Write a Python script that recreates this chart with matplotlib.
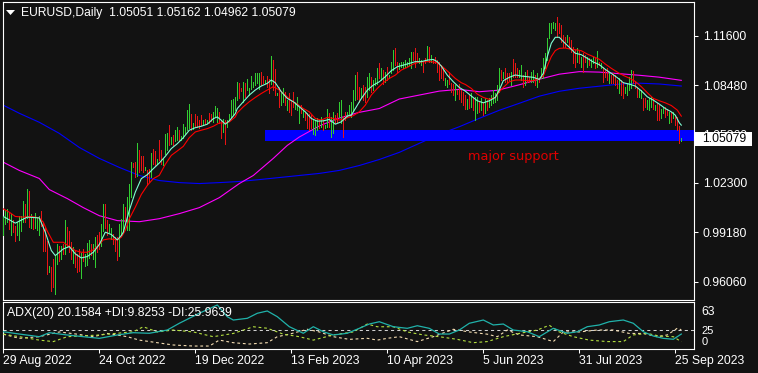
import numpy as np
import matplotlib
matplotlib.use("Agg")
import matplotlib.pyplot as plt
import matplotlib.transforms as mtransforms
from matplotlib.patches import Rectangle, Polygon

plt.rcParams['font.family'] = ['Liberation Sans', 'DejaVu Sans']

# ---------------- data (EURUSD daily, bar index 0 = 29 Aug 2022) ----------------
highs = [
    1.0018, 1.0060, 1.0066, 1.0045, 1.0031, 0.9993, 0.9961, 0.9982, 1.0018, 1.0024,
    1.0113, 1.0098, 1.0193, 1.0182, 1.0031, 1.0014, 1.0039, 1.0009, 1.0024, 1.0050,
    0.9976, 0.9950, 0.9866, 0.9708, 0.9697, 0.9750, 0.9771, 0.9845, 0.9834, 0.9834,
    0.9841, 0.9997, 0.9950, 0.9925, 0.9855, 0.9824, 0.9798, 0.9782, 0.9813, 0.9786,
    0.9813, 0.9782, 0.9849, 0.9870, 0.9845, 0.9841, 0.9887, 0.9898, 0.9919, 0.9971,
    1.0094, 1.0094, 0.9997, 0.9971, 0.9946, 0.9908, 0.9887, 0.9887, 0.9971, 1.0003,
    1.0098, 1.0077, 1.0141, 1.0225, 1.0362, 1.0355, 1.0362, 1.0482, 1.0436, 1.0398,
    1.0398, 1.0331, 1.0314, 1.0320, 1.0419, 1.0447, 1.0432, 1.0383, 1.0499, 1.0436,
    1.0383, 1.0541, 1.0546, 1.0594, 1.0520, 1.0531, 1.0563, 1.0584, 1.0563, 1.0525,
    1.0605, 1.0584, 1.0693, 1.0731, 1.0664, 1.0609, 1.0668, 1.0651, 1.0626, 1.0658,
    1.0626, 1.0636, 1.0630, 1.0672, 1.0668, 1.0679, 1.0715, 1.0706, 1.0679, 1.0626,
    1.0636, 1.0626, 1.0626, 1.0668, 1.0752, 1.0757, 1.0774, 1.0869, 1.0859, 1.0830,
    1.0869, 1.0859, 1.0884, 1.0827, 1.0905, 1.0869, 1.0926, 1.0922, 1.0922, 1.0933,
    1.0905, 1.0880, 1.0905, 1.0884, 1.1032, 1.1006, 1.0947, 1.0800, 1.0838, 1.0795,
    1.0827, 1.0806, 1.0753, 1.0795, 1.0753, 1.0806, 1.0743, 1.0770, 1.0711, 1.0722,
    1.0690, 1.0679, 1.0669, 1.0665, 1.0658, 1.0627, 1.0627, 1.0637, 1.0627, 1.0648,
    1.0627, 1.0595, 1.0700, 1.0669, 1.0644, 1.0679, 1.0658, 1.0669, 1.0743, 1.0753,
    1.0652, 1.0679, 1.0679, 1.0722, 1.0743, 1.0816, 1.0911, 1.0932, 1.0837, 1.0827,
    1.0848, 1.0833, 1.0901, 1.0922, 1.0901, 1.0880, 1.0890, 1.0953, 1.0985, 1.0953,
    1.0943, 1.0932, 1.0964, 1.0911, 1.0996, 1.1069, 1.1080, 1.0996, 1.0985, 1.0996,
    1.0996, 1.1006, 1.0996, 1.1017, 1.1059, 1.1059, 1.1080, 1.1048, 1.1017, 1.1006,
    1.0996, 1.1017, 1.1095, 1.1090, 1.1038, 1.1006, 1.1027, 1.1006, 1.0996, 1.0974,
    1.0953, 1.0890, 1.0880, 1.0932, 1.0863, 1.0858, 1.0848, 1.0820, 1.0858, 1.0816,
    1.0806, 1.0785, 1.0757, 1.0785, 1.0796, 1.0774, 1.0774, 1.0774, 1.0743, 1.0764,
    1.0743, 1.0764, 1.0753, 1.0764, 1.0785, 1.0817, 1.0800, 1.0848, 1.0954, 1.0943,
    1.0933, 1.0954, 1.0922, 1.0922, 1.0933, 1.1011, 1.0990, 1.0954, 1.0943, 1.0975,
    1.0912, 1.0933, 1.0943, 1.0901, 1.0933, 1.0943, 1.0912, 1.0922, 1.0890, 1.0954,
    1.1017, 1.1049, 1.1144, 1.1239, 1.1239, 1.1249, 1.1243, 1.1281, 1.1239, 1.1228,
    1.1165, 1.1154, 1.1165, 1.1154, 1.1133, 1.1091, 1.1070, 1.1080, 1.1070, 1.1028,
    1.1049, 1.1038, 1.1028, 1.1017, 1.1011, 1.1028, 1.1017, 1.1065, 1.0996, 1.0990,
    1.0964, 1.0943, 1.0954, 1.0933, 1.0911, 1.0922, 1.0911, 1.0880, 1.0890, 1.0880,
    1.0869, 1.0838, 1.0859, 1.0901, 1.0943, 1.0939, 1.0869, 1.0838, 1.0817, 1.0817,
    1.0764, 1.0764, 1.0753, 1.0764, 1.0774, 1.0764, 1.0722, 1.0732, 1.0722, 1.0700,
    1.0711, 1.0711, 1.0700, 1.0679, 1.0679, 1.0679, 1.0658, 1.0648, 1.0589, 1.0516,
]
lows = [
    0.9904, 0.9971, 0.9982, 0.9940, 0.9904, 0.9919, 0.9866, 0.9898, 0.9870, 0.9929,
    0.9982, 0.9982, 1.0009, 0.9950, 0.9946, 0.9940, 0.9946, 0.9934, 0.9904, 0.9961,
    0.9803, 0.9803, 0.9655, 0.9666, 0.9549, 0.9571, 0.9528, 0.9718, 0.9739, 0.9750,
    0.9782, 0.9782, 0.9828, 0.9792, 0.9750, 0.9723, 0.9697, 0.9666, 0.9672, 0.9630,
    0.9739, 0.9708, 0.9714, 0.9756, 0.9777, 0.9750, 0.9697, 0.9792, 0.9813, 0.9834,
    0.9929, 0.9946, 0.9904, 0.9919, 0.9877, 0.9845, 0.9803, 0.9744, 0.9771, 0.9898,
    0.9919, 0.9972, 0.9930, 0.9935, 1.0141, 1.0330, 1.0267, 1.0271, 1.0299, 1.0309,
    1.0299, 1.0309, 1.0214, 1.0236, 1.0267, 1.0352, 1.0341, 1.0352, 1.0373, 1.0352,
    1.0341, 1.0411, 1.0436, 1.0468, 1.0478, 1.0468, 1.0495, 1.0499, 1.0499, 1.0499,
    1.0516, 1.0541, 1.0567, 1.0579, 1.0567, 1.0573, 1.0588, 1.0584, 1.0579, 1.0594,
    1.0594, 1.0601, 1.0609, 1.0609, 1.0622, 1.0615, 1.0647, 1.0615, 1.0609, 1.0516,
    1.0552, 1.0478, 1.0584, 1.0626, 1.0647, 1.0658, 1.0689, 1.0753, 1.0764, 1.0810,
    1.0743, 1.0774, 1.0817, 1.0785, 1.0821, 1.0838, 1.0848, 1.0859, 1.0821, 1.0848,
    1.0863, 1.0859, 1.0838, 1.0795, 1.0854, 1.0817, 1.0785, 1.0785, 1.0711, 1.0722,
    1.0743, 1.0722, 1.0690, 1.0679, 1.0658, 1.0711, 1.0700, 1.0690, 1.0606, 1.0669,
    1.0648, 1.0627, 1.0574, 1.0563, 1.0574, 1.0538, 1.0532, 1.0563, 1.0580, 1.0584,
    1.0563, 1.0574, 1.0584, 1.0584, 1.0521, 1.0546, 1.0606, 1.0616, 1.0648, 1.0606,
    1.0517, 1.0627, 1.0648, 1.0658, 1.0648, 1.0690, 1.0753, 1.0763, 1.0742, 1.0774,
    1.0753, 1.0742, 1.0774, 1.0816, 1.0806, 1.0816, 1.0848, 1.0858, 1.0890, 1.0880,
    1.0858, 1.0869, 1.0880, 1.0890, 1.0922, 1.0943, 1.0974, 1.0932, 1.0947, 1.0964,
    1.0953, 1.0964, 1.0968, 1.0974, 1.0953, 1.1006, 1.0964, 1.0996, 1.0985, 1.0974,
    1.0932, 1.0985, 1.1006, 1.0996, 1.0996, 1.0985, 1.0985, 1.0932, 1.0880, 1.0890,
    1.0880, 1.0848, 1.0837, 1.0858, 1.0806, 1.0785, 1.0753, 1.0791, 1.0763, 1.0742,
    1.0721, 1.0700, 1.0694, 1.0701, 1.0711, 1.0690, 1.0627, 1.0669, 1.0679, 1.0690,
    1.0658, 1.0669, 1.0690, 1.0711, 1.0722, 1.0732, 1.0743, 1.0753, 1.0806, 1.0880,
    1.0890, 1.0869, 1.0869, 1.0880, 1.0848, 1.0901, 1.0901, 1.0901, 1.0901, 1.0880,
    1.0838, 1.0848, 1.0869, 1.0869, 1.0869, 1.0869, 1.0848, 1.0838, 1.0869, 1.0890,
    1.0890, 1.0954, 1.1006, 1.1144, 1.1180, 1.1207, 1.1196, 1.1154, 1.1175, 1.1123,
    1.1091, 1.1091, 1.1123, 1.1080, 1.1059, 1.0985, 1.0964, 1.0996, 1.0985, 1.0964,
    1.0933, 1.0996, 1.0964, 1.0975, 1.0960, 1.0985, 1.0954, 1.0964, 1.0975, 1.0954,
    1.0869, 1.0901, 1.0880, 1.0859, 1.0859, 1.0859, 1.0848, 1.0827, 1.0795, 1.0785,
    1.0764, 1.0795, 1.0785, 1.0817, 1.0827, 1.0859, 1.0827, 1.0774, 1.0774, 1.0764,
    1.0690, 1.0711, 1.0700, 1.0690, 1.0711, 1.0700, 1.0690, 1.0627, 1.0627, 1.0637,
    1.0669, 1.0648, 1.0658, 1.0606, 1.0616, 1.0637, 1.0595, 1.0563, 1.0483, 1.0496,
]
up = [
    1,1,1,0,1,0,0,1,1,1, 1,0,1,0,1,0,1,1,1,0, 0,0,0,1,0,0,1,1,0,1,
    0,1,0,0,0,1,0,0,0,1, 0,1,1,1,0,1,1,0,0,1, 1,0,0,1,1,0,0,0,1,1,
    1,0,1,1,1,0,0,1,0,0, 0,1,0,0,1,0,0,1,0,0, 1,1,1,0,1,0,1,1,0,1,
    1,1,1,1,0,1,0,0,0,0, 1,0,1,0,0,1,1,1,0,0, 1,0,1,1,1,1,1,1,0,0,
    1,0,1,1,1,1,1,1,1,0, 0,1,0,0,1,0,0,1,0,1, 1,0,1,0,0,0,1,1,1,0,
    1,0,0,0,0,1,1,1,0,1, 0,1,1,0,1,1,0,0,1,1, 0,0,1,1,1,1,1,0,0,1,
    0,0,1,1,0,1,1,1,0,1, 0,1,0,1,1,1,0,0,1,1, 1,1,1,1,1,0,0,0,1,1,
    0,0,1,0,1,0,0,0,0,0, 0,1,1,0,0,0,1,0,0,0, 0,0,1,0,1,0,1,1,0,1,
    0,1,0,1,1,1,1,1,1,0, 1,0,0,0,1,0,0,0,1,1, 0,1,0,0,1,1,0,1,0,1,
    1,1,1,1,1,1,1,0,0,0, 0,0,1,0,0,0,0,1,0,1, 0,0,1,0,1,1,0,1,0,1,
    0,0,0,1,0,0,0,0,1,0, 0,1,1,1,1,0,0,0,1,1, 0,0,1,1,1,0,1,0,0,1,
    1,0,0,1,0,1,0,0,0,1,
]

# moving averages (bar index, price)
fast_ma_bar = [0, 6, 12, 18, 21, 24, 26, 30, 33, 36, 39, 42, 45, 48, 51, 54, 57, 59, 60, 63, 66, 69, 72, 75,
               78, 81, 84, 87, 90, 93, 96, 99, 102, 105, 107, 109, 111, 113, 116, 117, 120, 123, 126, 129,
               132, 134, 136, 139, 142, 145, 148, 151, 154, 157, 160, 163, 166, 169, 172, 174, 176, 179, 182,
               185, 188, 191, 194, 197, 200, 203, 206, 209, 212, 215, 217, 219, 222, 225, 228, 231, 234, 237,
               240, 243, 246, 248, 250, 253, 256, 259, 262, 265, 268, 270, 272, 274, 276, 278, 280, 283, 286,
               289, 292, 295, 298, 301, 304, 307, 310, 313, 316, 319, 322, 325, 328, 331, 334, 336, 338, 339]
fast_ma = [1.0018, 0.9976, 1.0014, 1.0009, 0.9919, 0.9803, 0.9771, 0.9813, 0.9828, 0.9782, 0.9756, 0.9765,
           0.9792, 0.9841, 0.9919, 0.9904, 0.9870, 0.9898, 0.9919, 1.0056, 1.0172, 1.0257, 1.0282, 1.0320,
           1.0356, 1.0398, 1.0447, 1.0478, 1.0516, 1.0563, 1.0579, 1.0588, 1.0601, 1.0636, 1.0647, 1.0626,
           1.0601, 1.0622, 1.0668, 1.0700, 1.0743, 1.0785, 1.0817, 1.0842, 1.0859, 1.0880, 1.0863, 1.0806,
           1.0764, 1.0743, 1.0711, 1.0679, 1.0637, 1.0620, 1.0622, 1.0631, 1.0601, 1.0616, 1.0652, 1.0658,
           1.0700, 1.0763, 1.0816, 1.0848, 1.0869, 1.0901, 1.0939, 1.0964, 1.0974, 1.0985, 1.0996, 1.0996,
           1.1006, 1.1010, 1.0996, 1.0968, 1.0911, 1.0869, 1.0833, 1.0810, 1.0779, 1.0749, 1.0736, 1.0749,
           1.0770, 1.0817, 1.0876, 1.0897, 1.0912, 1.0905, 1.0901, 1.0897, 1.0884, 1.0922, 1.1028, 1.1112,
           1.1150, 1.1150, 1.1123, 1.1087, 1.1049, 1.1040, 1.1017, 1.0994, 1.0977, 1.0947, 1.0922, 1.0895,
           1.0863, 1.0854, 1.0842, 1.0812, 1.0774, 1.0753, 1.0728, 1.0700, 1.0679, 1.0658, 1.0610, 1.0595]

slow_ma_bar = [0, 3, 6, 10, 14, 18, 20, 22, 25, 30, 33, 36, 39, 42, 45, 48, 50, 53, 57, 59, 61, 63, 66, 69,
               72, 75, 78, 81, 84, 87, 90, 93, 96, 99, 102, 105, 108, 111, 113, 116, 117, 120, 123, 126, 129,
               132, 135, 138, 141, 144, 147, 150, 153, 156, 159, 162, 165, 168, 171, 175, 178, 181, 184, 187,
               190, 193, 196, 199, 202, 205, 208, 211, 214, 217, 220, 223, 226, 229, 231, 234, 237, 240, 243,
               246, 248, 250, 253, 256, 259, 262, 265, 268, 270, 272, 274, 276, 278, 281, 284, 287, 289, 292,
               295, 298, 301, 304, 307, 310, 313, 316, 319, 322, 325, 328, 331, 334, 337, 339]
slow_ma = [1.0066, 1.0045, 1.0018, 1.0014, 1.0018, 1.0009, 0.9982, 0.9925, 0.9855, 0.9855, 0.9828, 0.9803,
           0.9792, 0.9792, 0.9807, 0.9841, 0.9870, 0.9877, 0.9870, 0.9887, 0.9930, 1.0003, 1.0077, 1.0157,
           1.0214, 1.0257, 1.0278, 1.0347, 1.0404, 1.0432, 1.0461, 1.0516, 1.0552, 1.0563, 1.0573, 1.0588,
           1.0609, 1.0609, 1.0615, 1.0647, 1.0673, 1.0711, 1.0743, 1.0770, 1.0795, 1.0817, 1.0838, 1.0817,
           1.0785, 1.0749, 1.0728, 1.0700, 1.0679, 1.0637, 1.0627, 1.0644, 1.0637, 1.0627, 1.0637, 1.0655,
           1.0679, 1.0721, 1.0785, 1.0827, 1.0863, 1.0890, 1.0911, 1.0943, 1.0960, 1.0981, 1.0993, 1.0996,
           1.0996, 1.0989, 1.0960, 1.0926, 1.0890, 1.0863, 1.0852, 1.0827, 1.0791, 1.0770, 1.0758, 1.0770,
           1.0806, 1.0833, 1.0869, 1.0880, 1.0880, 1.0876, 1.0876, 1.0890, 1.0905, 1.0969, 1.1028, 1.1066,
           1.1080, 1.1082, 1.1074, 1.1070, 1.1065, 1.1044, 1.1028, 1.1011, 1.0981, 1.0954, 1.0930, 1.0909,
           1.0892, 1.0871, 1.0838, 1.0800, 1.0764, 1.0749, 1.0736, 1.0719, 1.0690, 1.0652]

ma100_bar = [0, 8, 18, 23, 32, 40, 48, 57, 68, 78, 88, 98, 108, 118, 125, 135, 142, 148, 158, 168, 178,
             188, 198, 208, 218, 228, 238, 247, 258, 268, 278, 288, 298, 308, 318, 328, 339]
ma100 = [1.0361, 1.0309, 1.0258, 1.0188, 1.0131, 1.0074, 1.0023, 0.9992, 0.9985, 1.0004, 1.0036, 1.0074,
         1.0137, 1.0226, 1.0277, 1.0385, 1.0467, 1.0520, 1.0590, 1.0640, 1.0676, 1.0700, 1.0760, 1.0785,
         1.0810, 1.0821, 1.0806, 1.0815, 1.0850, 1.0885, 1.0917, 1.0933, 1.0930, 1.0920, 1.0910, 1.0898,
         1.0878]

ma200_bar = [0, 8, 18, 28, 38, 48, 58, 68, 78, 88, 98, 108, 118, 128, 138, 148, 158, 168, 178, 188, 198,
             208, 218, 228, 238, 248, 258, 268, 278, 288, 298, 308, 318, 328, 339]
ma200 = [1.0721, 1.0670, 1.0613, 1.0543, 1.0454, 1.0385, 1.0328, 1.0277, 1.0245, 1.0232, 1.0226, 1.0232,
         1.0239, 1.0251, 1.0264, 1.0277, 1.0290, 1.0309, 1.0340, 1.0378, 1.0423, 1.0480, 1.0537, 1.0585,
         1.0638, 1.0689, 1.0733, 1.0778, 1.0809, 1.0828, 1.0841, 1.0854, 1.0860, 1.0855, 1.0842]

# ADX(20) panel
adx_bar = [0, 8, 18, 23, 32, 40, 48, 57, 65, 73, 82, 88, 98, 107, 112, 115, 122, 127, 132, 137, 143, 150,
           155, 160, 165, 172, 178, 183, 188, 195, 202, 207, 213, 218, 223, 228, 233, 240, 245, 250, 255,
           262, 268, 275, 282, 287, 292, 298, 303, 310, 315, 320, 325, 330, 335, 339]
adx = [23.3, 20.2, 16.6, 22.0, 18.9, 16.6, 14.4, 18.9, 22.0, 21.2, 25.6, 34.7, 48.2, 59.4, 43.6, 39.1, 41.4,
       48.2, 51.3, 43.6, 30.1, 21.2, 30.1, 23.3, 18.9, 21.2, 27.9, 33.7, 36.8, 30.1, 27.9, 31.4, 27.9, 20.2,
       20.2, 25.6, 34.7, 39.1, 32.4, 33.7, 25.6, 23.3, 16.6, 27.9, 21.2, 23.3, 30.1, 32.4, 36.8, 39.1, 34.7,
       23.3, 17.5, 14.4, 13.1, 20.16]
pdi_bar = [0, 8, 18, 25, 32, 48, 65, 70, 77, 85, 95, 105, 115, 125, 132, 140, 148, 155, 165, 175, 182, 187,
           195, 202, 210, 218, 227, 235, 242, 250, 258, 267, 273, 278, 285, 293, 302, 310, 315, 322, 328, 335,
           339]
pdi = [20, 16.6, 12, 10, 16.6, 18.9, 23.3, 30, 23, 25.6, 23, 16.6, 21, 30, 28, 20, 16.6, 12, 19, 23, 33.7, 30,
       30, 23, 19, 16.6, 13, 8.5, 10, 16.6, 21, 25.6, 32, 23, 16.6, 12, 10, 10, 19, 21, 17.5, 16.6, 9.83]
mdi_bar = [0, 8, 18, 28, 37, 45, 52, 62, 68, 77, 85, 95, 103, 108, 115, 123, 132, 137, 143, 152, 158, 165,
           173, 182, 187, 192, 198, 207, 215, 225, 233, 242, 247, 252, 258, 267, 275, 280, 288, 297, 305, 313,
           320, 327, 332, 337, 339]
mdi = [20, 14.4, 16.6, 23, 20, 16.6, 21, 16.6, 12, 8.5, 5.4, 4, 4, 12, 8.5, 6.7, 8.5, 16.6, 20, 26.6, 23,
       16.6, 13, 14.4, 12, 14.4, 16.6, 10, 16.6, 26.6, 23, 20, 16.6, 25.6, 19, 16.6, 10, 23, 23, 25.6, 25.6,
       21, 21, 16.6, 19, 28, 25.96]

support_start_bar = 131
support_high = 1.0562
support_low = 1.0492
last_open, last_high, last_low, last_close = 1.05051, 1.05162, 1.04962, 1.05079

price_ticks = [1.11600, 1.08480, 1.05360, 1.02300, 0.99180, 0.96060]
price_labels = ['1.11600', '1.08480', '1.05360', '1.02300', '0.99180', '0.96060']
date_ticks = [0, 48, 96, 144, 192, 240, 288, 336]
date_labels = ['29 Aug 2022', '24 Oct 2022', '19 Dec 2022', '13 Feb 2023',
               '10 Apr 2023', '5 Jun 2023', '31 Jul 2023', '25 Sep 2023']

# ---------------- drawing ----------------
W, H = 758, 373
BG = '#121212'
UPC = '#32cd32'
DNC = '#e81414'


def fx(px):
    return px / W


def fy(py):
    return 1 - py / H


fig = plt.figure(figsize=(W / 100, H / 100), dpi=100, facecolor=BG)
ax = fig.add_axes([fx(2.5), fy(300), fx(694.3) - fx(2.5), fy(2) - fy(300)], facecolor=BG)
ax2 = fig.add_axes([fx(2.5), fy(349), fx(694.3) - fx(2.5), fy(302.3) - fy(349)], facecolor=BG)

n = len(highs)
assert len(lows) == n and len(up) == n, (len(highs), len(lows), len(up))
xb = np.arange(n)
cols = [UPC if u else DNC for u in up]

ax.add_patch(Rectangle((support_start_bar, support_low), 1000, support_high - support_low,
                       facecolor='#0000ff', edgecolor='none', zorder=1))
ax.plot(ma200_bar, ma200, color='#0000ff', lw=0.8, zorder=2)
ax.plot(ma100_bar, ma100, color='#ff00ff', lw=0.8, zorder=2)
ax.vlines(xb, lows, highs, colors=cols, linewidth=0.45, antialiased=False, zorder=3)
ax.plot(slow_ma_bar, slow_ma, color='#ff0000', lw=0.8, zorder=4)
ax.plot(fast_ma_bar, fast_ma, color='#7fffd4', lw=0.8, zorder=5)

ax.text(232.2, 1.0398, 'major support', color='#e00000', fontsize=9.3,
        family=['DejaVu Sans'], va='center', ha='left', zorder=6)

ax.set_xlim(-0.4, 345.5)
ax.set_ylim(0.94904, 1.13729)
ax.set_xticks([])
ax.yaxis.tick_right()
ax.set_yticks(price_ticks)
ax.set_yticklabels(price_labels)
ax.tick_params(axis='y', colors='white', length=3, width=0.75, pad=3, labelsize=8.8, direction='out')
for s in ax.spines.values():
    s.set_color('white')
    s.set_linewidth(0.8)

# current price label
trans = mtransforms.blended_transform_factory(fig.transFigure, ax.transData)
pp = (ax.get_ylim()[1] - ax.get_ylim()[0]) / 298.0
ax.add_patch(Rectangle((fx(694.8), last_close - 7 * pp), fx(751.7) - fx(694.8), 14 * pp,
                       transform=trans, facecolor='white', edgecolor='none', clip_on=False, zorder=7))
ax.text(fx(701.7), last_close, '%.5f' % last_close, transform=trans, color='black', fontsize=8.8,
        va='center', ha='left', clip_on=False, zorder=8)

# title
fig.add_artist(Polygon([[fx(6), fy(10)], [fx(15), fy(10)], [fx(10.5), fy(15)]], closed=True,
                       transform=fig.transFigure, facecolor='white', edgecolor='none'))
fig.text(fx(21), fy(12.7), 'EURUSD,Daily  %.5f %.5f %.5f %.5f' % (last_open, last_high, last_low, last_close),
         color='white', fontsize=8.7, va='center', ha='left')

# ADX panel
ax2.axhline(25, color='#d0d0d0', lw=0.75, ls=(0, (3, 3)), zorder=1)
ax2.plot(mdi_bar, mdi, color='#f5deb3', lw=0.8, ls=(0, (2.5, 2.5)), zorder=2)
ax2.plot(pdi_bar, pdi, color='#b4e040', lw=0.8, ls=(0, (2.5, 2.5)), zorder=3)
ax2.plot(adx_bar, adx, color='#20b2aa', lw=0.9, zorder=4)
ax2.set_xlim(-0.4, 345.5)
ax2.set_ylim(0, 63)
ax2.set_yticks([])
ax2.set_xticks(date_ticks)
ax2.set_xticklabels(date_labels)
ax2.tick_params(axis='x', colors='white', length=3, width=0.75, pad=1, labelsize=8.8, direction='out')
for lbl in ax2.get_xticklabels():
    lbl.set_ha('left')
for s in ax2.spines.values():
    s.set_color('white')
    s.set_linewidth(0.8)

ax2.text(1.0107, (349 - 311.7) / 46.7, '63', transform=ax2.transAxes, color='white', fontsize=8.8,
         va='center', ha='left', clip_on=False)
ax2.text(1.0107, (349 - 331.0) / 46.7, '25', transform=ax2.transAxes, color='white', fontsize=8.0,
         va='center', ha='left', clip_on=False)
ax2.text(1.0107, (349 - 342.0) / 46.7, '0', transform=ax2.transAxes, color='white', fontsize=8.0,
         va='center', ha='left', clip_on=False)
fig.text(fx(7), fy(313.3), 'ADX(20) %.4f +DI:%.4f -DI:%.4f' % (20.1584, 9.8253, 25.9639),
         color='white', fontsize=8.8, va='center', ha='left')

fig.savefig('out.png', dpi=100, facecolor=BG)
